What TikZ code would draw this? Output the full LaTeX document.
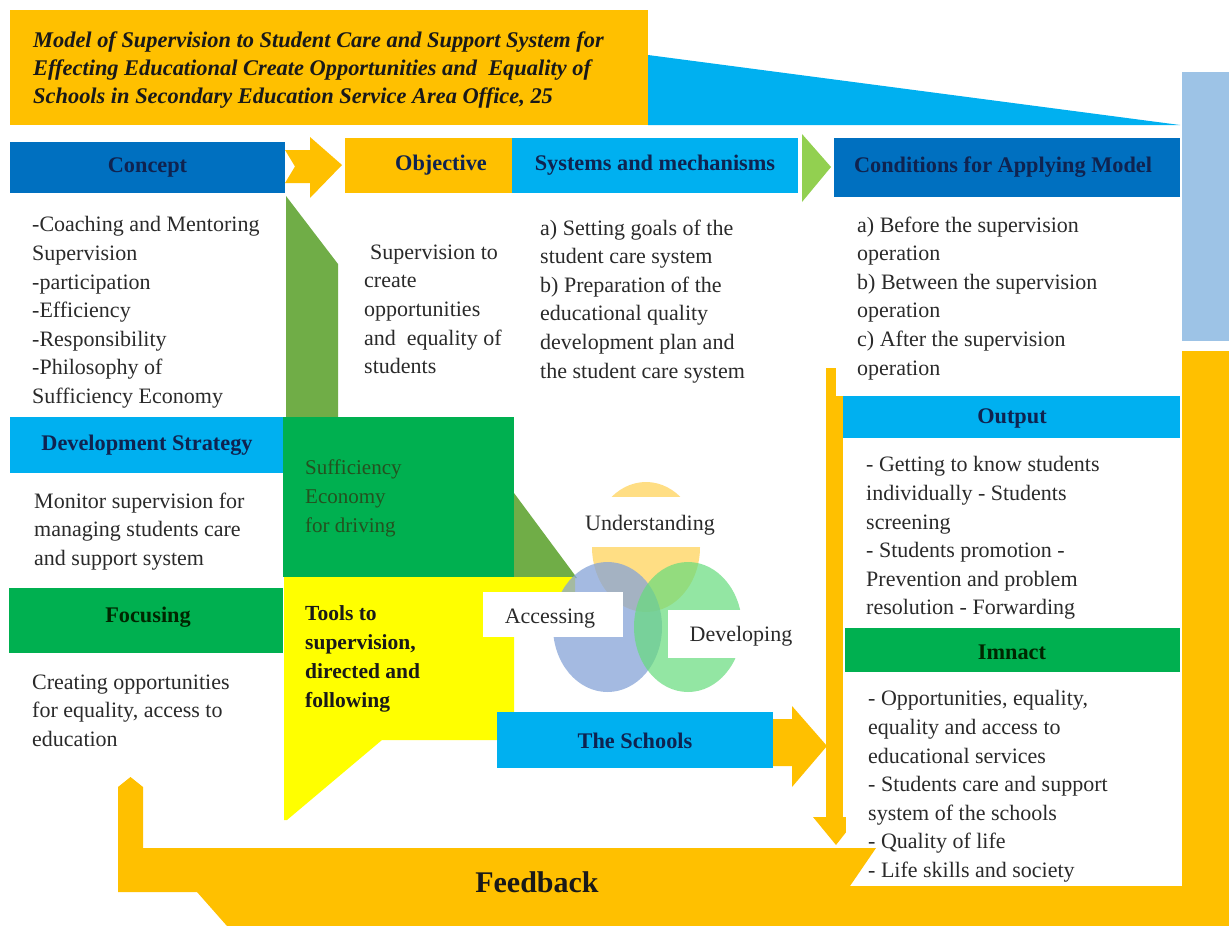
\documentclass[tikz,border=0pt]{standalone}
\usepackage{fontspec}
\setmainfont{Liberation Serif}
\definecolor{gold}{HTML}{FFC000}
\definecolor{cyanb}{HTML}{00B0F0}
\definecolor{dblue}{HTML}{0070C0}
\definecolor{steel}{HTML}{9DC3E6}
\definecolor{grn}{HTML}{00B050}
\definecolor{olivegr}{HTML}{70AD47}
\definecolor{lime}{HTML}{92D050}
\definecolor{yel}{HTML}{FFFF00}
\definecolor{navy}{HTML}{0F2350}
\definecolor{bodygray}{HTML}{2A2A2A}
\definecolor{darkgrn}{HTML}{24511F}
\definecolor{vyellow}{HTML}{FFD35C}
\definecolor{vblue}{HTML}{86A4D8}
\definecolor{vgreen}{HTML}{66DC7C}
\tikzset{
  fillbox/.style={inner sep=0, outer sep=0, draw=none},
  hdr/.style={inner sep=0, font=\fontsize{22.3}{26}\selectfont\bfseries, text=navy},
  txt/.style={inner sep=0, anchor=north west, align=left, font=\fontsize{22}{28.6}\selectfont, text=bodygray},
  lbl/.style={fill=white, inner sep=0, outer sep=0},
  vtxt/.style={inner sep=0, font=\fontsize{22}{26}\selectfont, text=bodygray},
}
\begin{document}
\begin{tikzpicture}[x=1pt,y=-1pt]
\useasboundingbox (0,0) rectangle (1229,926);
\fill[white] (0,0) rectangle (1229,926);

% title band
\node[fillbox, fill=gold, minimum width=638, minimum height=115] (titlebox) at (329,67.5) {};
\fill[cyanb] (648,55) -- (1180,125) -- (648,125) -- cycle;
\fill[steel] (1182,72) rectangle (1229,341);
\fill[gold] (1182,351) rectangle (1229,886);
\node[inner sep=0, anchor=north west, align=left, text=black!90,
      font=\fontsize{22.4}{28}\selectfont\bfseries\itshape] (title) at (33,31.5)
  {Model of Supervision to Student Care and Support System for\\
   Effecting Educational Create Opportunities and\ \ Equality of\\
   Schools in Secondary Education Service Area Office, 25};

% header row
\node[fillbox, fill=dblue, minimum width=275, minimum height=51] (concept) at (147.5,167.5) {};
\node[hdr] at (concept.center) {Concept};
\fill[gold] (285,150) -- (310,150) -- (310,137) -- (342,165) -- (310,198) -- (310,183) -- (285,183) -- (295,166.5) -- cycle;
\node[fillbox, fill=gold, minimum width=167, minimum height=55] (objective) at (428.5,165.5) {};
\node[hdr] at (441,165.5) {Objective};
\node[fillbox, fill=cyanb, minimum width=286, minimum height=55] (systems) at (655,165.5) {};
\node[hdr] at (systems.center) {Systems and mechanisms};
\fill[lime] (802,134) -- (831,167) -- (802,202) -- cycle;
\node[fillbox, fill=dblue, minimum width=346, minimum height=59] (conditions) at (1007,167.5) {};
\node[hdr] at (1003,167.5) {Conditions for Applying Model};

% left column
\fill[olivegr] (286,196) -- (338,264) -- (338,418) -- (286,418) -- cycle;
\node[fillbox, fill=cyanb, minimum width=273, minimum height=56] (devstrat) at (146.5,445) {};
\node[hdr] at (147,445) {Development Strategy};
\node[fillbox, fill=grn, minimum width=231, minimum height=160] (suff) at (398.5,497) {};
\fill[olivegr] (514,493) -- (577,578) -- (514,578) -- cycle;
\fill[yel] (284,577) -- (575,577) -- (575,592) -- (514,592) -- (514,740) -- (382,740) -- (287,820) -- (284,820) -- cycle;
\node[fillbox, fill=grn, minimum width=274, minimum height=65] (focusing) at (146,620.5) {};
\node[hdr, text=black!85!green] at (148,617) {Focusing};

% right column
\fill[gold] (826,368) rectangle (843,818);
\fill[gold] (813,817) -- (858,817) -- (836,845) -- cycle;
\fill[white] (836,198) rectangle (1180,396);
\fill[white] (845,437) rectangle (1180,628);
\fill[white] (846,672) rectangle (1180,886);
\node[fillbox, fill=cyanb, minimum width=337, minimum height=42] (output) at (1011.5,417) {};
\node[hdr] at (1012,418) {Output};
\node[fillbox, fill=grn, minimum width=335, minimum height=44] (impact) at (1012.5,650) {};
\node[hdr, text=black!85!green] at (1012,652) {Imnact};

% Venn
\fill[vyellow, fill opacity=0.75] (646,547) ellipse [x radius=54, y radius=65];
\fill[vblue, fill opacity=0.75] (607.5,627) ellipse [x radius=54.5, y radius=65];
\fill[vgreen, fill opacity=0.7] (688,627) ellipse [x radius=54, y radius=65];
\node[lbl, minimum width=150, minimum height=50] (undbox) at (650,522) {};
\node[vtxt] (und) at (650,525) {Understanding};
\node[lbl, minimum width=140, minimum height=45] (accbox) at (553,614.5) {};
\node[vtxt] (acc) at (550,619) {Accessing};
\node[lbl, minimum width=132, minimum height=48] (devbox) at (734,634) {};
\node[vtxt] (dev) at (741,636) {Developing};

% schools
\node[fillbox, fill=cyanb, minimum width=276, minimum height=56] (schools) at (635,740) {};
\node[hdr] at (635,741) {The Schools};
\fill[gold] (773,719) -- (792,719) -- (792,706) -- (827,746) -- (792,787) -- (792,766) -- (773,766) -- cycle;

% feedback
\fill[gold] (118,848) -- (118,787) -- (130.5,777) -- (143,787) -- (143,848) -- (876,848) -- (850,886)
  -- (1229,886) -- (1229,926) -- (227,926) -- (197,892) -- (118,892) -- cycle;
\node[inner sep=0, font=\fontsize{30}{34}\selectfont\bfseries, text=black!90] (feedback) at (537,882) {Feedback};

% body texts
\node[txt] (concepttext) at (32,216.5) {-Coaching and Mentoring\\Supervision\\-participation\\-Efficiency\\-Responsibility\\-Philosophy of\\Sufficiency Economy};
\node[txt] (objtext) at (364,244.5) {\hspace{6pt}Supervision to\\create\\opportunities\\and\ \ equality of\\students};
\node[txt] (systext) at (540,219.5) {a) Setting goals of the\\student care system\\b) Preparation of the\\educational quality\\development plan and\\the student care system};
\node[txt] (condtext) at (857,216.5) {a) Before the supervision\\operation\\b) Between the supervision\\operation\\c) After the supervision\\operation};
\node[txt] (devtext) at (34,492.5) {Monitor supervision for\\managing students care\\and support system};
\node[txt] (focustext) at (32,674.5) {Creating opportunities\\for equality, access to\\education};
\node[txt, font=\fontsize{21}{29}\selectfont, text=darkgrn] (sufftext) at (305,460) {Sufficiency\\Economy\\for driving};
\node[txt, font=\fontsize{21.5}{29}\selectfont\bfseries, text=black!90] (toolstext) at (305,605) {Tools to\\supervision,\\directed and\\following};
\node[txt] (outtext) at (866,456.5) {- Getting to know students\\individually - Students\\screening\\- Students promotion -\\Prevention and problem\\resolution - Forwarding};
\node[txt] (imptext) at (868,690.5) {- Opportunities, equality,\\equality and access to\\educational services\\- Students care and support\\system of the schools\\- Quality of life\\- Life skills and society};
\end{tikzpicture}
\end{document}
